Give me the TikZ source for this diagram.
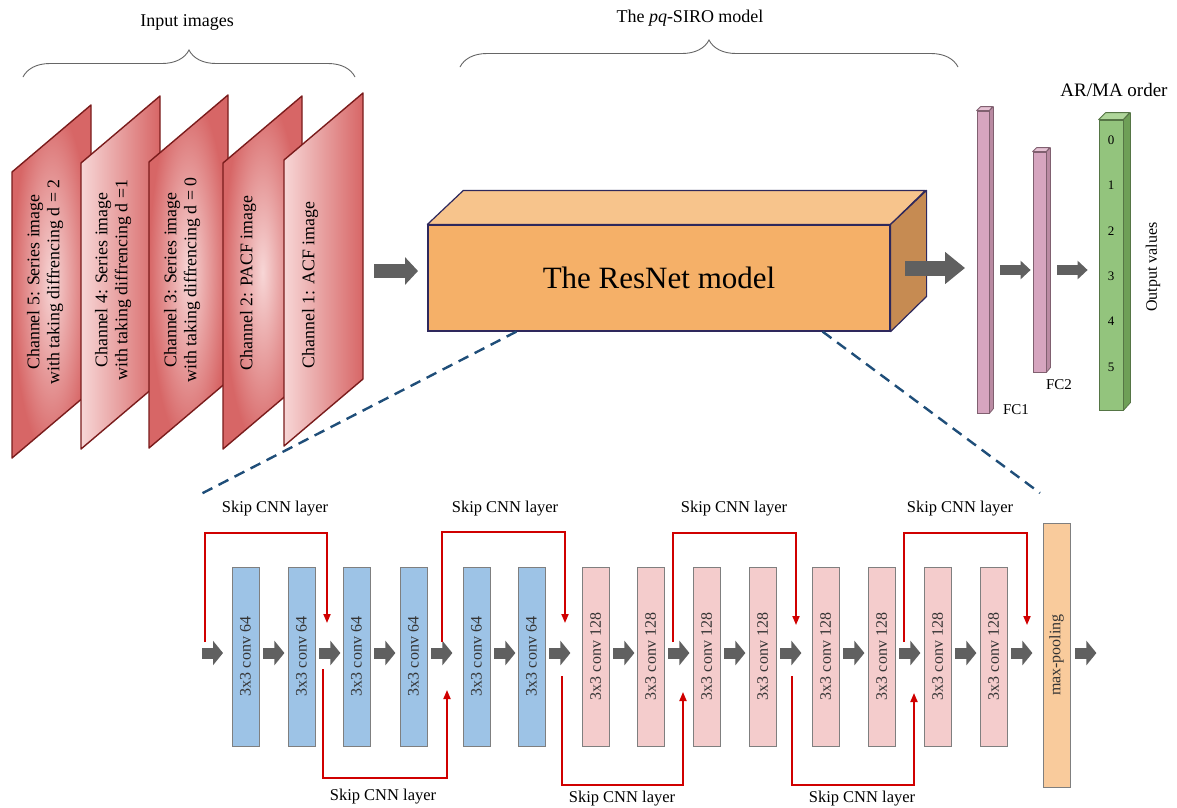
\documentclass[tikz,border=0pt]{standalone}
\usepackage{fontspec}
\setmainfont{Liberation Serif}
\usetikzlibrary{arrows.meta,decorations.pathreplacing}

\definecolor{pdark}{HTML}{D76666}
\definecolor{plight}{HTML}{F7D6D6}
\definecolor{pborder}{HTML}{7A1C1C}
\definecolor{boxfront}{HTML}{F5B068}
\definecolor{boxtop}{HTML}{F7C48C}
\definecolor{boxside}{HTML}{C68B52}
\definecolor{boxline}{HTML}{2E285C}
\definecolor{arrowgray}{HTML}{606060}
\definecolor{fcfront}{HTML}{D6A5BF}
\definecolor{fctop}{HTML}{E6C2D4}
\definecolor{fcside}{HTML}{B98AA2}
\definecolor{fcline}{HTML}{806070}
\definecolor{outfront}{HTML}{93C47D}
\definecolor{outtop}{HTML}{AFD69A}
\definecolor{outsidecol}{HTML}{6E9F57}
\definecolor{outborder}{HTML}{557545}
\definecolor{convblue}{HTML}{9DC3E6}
\definecolor{convpink}{HTML}{F4CCCC}
\definecolor{poolfill}{HTML}{F9CB9C}
\definecolor{convline}{HTML}{7F7F7F}
\definecolor{skipred}{HTML}{D00000}
\definecolor{zoomblue}{HTML}{1F4E79}

% one input channel: a slanted sheet with left edge at x=#1, top-left y=#2
\newcommand{\chanpanel}[3]{%
  \path[shade,#3,draw=pborder,line width=1.4pt,line join=round]
    (#1,#2) -- (#1+79,#2-67) -- (#1+79,#2+219) -- (#1,#2+286) -- cycle;}

\tikzset{
  chtext/.style={rotate=90,align=center,font=\fontsize{17.8}{20}\selectfont,inner sep=0pt},
  brace/.style={decorate,decoration={brace,amplitude=27pt},draw=black!60,line width=0.9pt},
  lbl/.style={inner sep=0pt,font=\fontsize{18}{21}\selectfont},
  bigarrow/.style={draw=arrowgray,line width=14pt,-{Triangle[length=13pt,width=27pt]}},
  widearrow/.style={draw=arrowgray,line width=15pt,-{Triangle[length=20pt,width=31pt]}},
  fcarrow/.style={draw=arrowgray,line width=10pt,-{Triangle[length=10pt,width=18pt]}},
  blk/.style={draw=arrowgray,line width=11pt,-{Triangle[length=10pt,width=24pt]}},
  convbox/.style={rotate=90,draw=convline,line width=0.8pt,minimum width=179pt,
    minimum height=27pt,inner sep=0pt,font=\fontsize{16}{18}\selectfont,text=black!80},
  conv64/.style={convbox,fill=convblue},
  conv128/.style={convbox,fill=convpink},
  skip/.style={draw=skipred,line width=1.8pt,-{Triangle[length=9pt,width=7pt]}},
  skiplbl/.style={inner sep=0pt,font=\fontsize{16.5}{19}\selectfont},
  zoomline/.style={draw=zoomblue,line width=2.4pt,dash pattern=on 11pt off 7pt},
}

\begin{document}
\begin{tikzpicture}[x=1pt,y=-1pt]
\useasboundingbox[fill=white] (0,0) rectangle (1177,807);

% ---------- input channels ----------
\chanpanel{12}{172}{inner color=plight,outer color=pdark}
\chanpanel{81}{163}{left color=plight,right color=pdark}
\chanpanel{149}{162}{inner color=plight,outer color=pdark}
\chanpanel{223}{163}{inner color=plight,outer color=pdark}
\chanpanel{284}{160}{left color=plight,right color=pdark}

\node[chtext] (t5) at (45,282) {Channel 5: Series image\\with taking diffrencing d = 2};
\node[chtext] (t4) at (113,280) {Channel 4: Series image\\with taking diffrencing d =1};
\node[chtext] (t3) at (182,280) {Channel 3: Series image\\with taking diffrencing d = 0};
\node[chtext] (t2) at (248,283) {Channel 2: PACF image};
\node[chtext] (t1) at (310,285) {Channel 1: ACF image};

% ---------- braces and titles ----------
\draw[brace] (23,77) -- (355,77);
\node[lbl] (inlbl) at (187,22) {Input images};
\draw[brace] (460,67) -- (958,67);
\node[lbl] (modellbl) at (690,18) {The \textit{pq}-SIRO model};

% ---------- ResNet block ----------
\node[draw=boxline,fill=boxfront,line width=1.2pt,minimum width=462pt,minimum height=106pt,
      inner sep=0pt,font=\fontsize{31}{36}\selectfont] (resnet) at (659,278) {The ResNet model};
\draw[draw=boxline,fill=boxtop,line width=1.2pt,line join=round]
  (resnet.north west) -- ++(36,-34) -- ++(462,0) -- (resnet.north east) -- cycle;
\draw[draw=boxline,fill=boxside,line width=1.2pt,line join=round]
  (resnet.north east) -- ++(36,-34) -- ++(0,106) -- (resnet.south east) -- cycle;

\coordinate (inS) at (374,271);
\coordinate (inE) at (418,271);
\draw[bigarrow] (inS) -- (inE);
\coordinate (outS) at (905,268);
\coordinate (outE) at (965,268);
\draw[widearrow] (outS) -- (outE);

% ---------- fully connected layers ----------
\node[draw=fcline,fill=fcfront,line width=0.8pt,minimum width=12pt,minimum height=302pt,inner sep=0pt] (fc1) at (983,262) {};
\draw[draw=fcline,fill=fctop,line width=0.8pt,line join=round]
  (fc1.north west) -- ++(4,-4) -- ++(12,0) -- (fc1.north east) -- cycle;
\draw[draw=fcline,fill=fcside,line width=0.8pt,line join=round]
  (fc1.north east) -- ++(4,-4) -- ++(0,302) -- (fc1.south east) -- cycle;

\node[draw=fcline,fill=fcfront,line width=0.8pt,minimum width=13pt,minimum height=220pt,inner sep=0pt] (fc2) at (1039.5,262) {};
\draw[draw=fcline,fill=fctop,line width=0.8pt,line join=round]
  (fc2.north west) -- ++(4,-4) -- ++(13,0) -- (fc2.north east) -- cycle;
\draw[draw=fcline,fill=fcside,line width=0.8pt,line join=round]
  (fc2.north east) -- ++(4,-4) -- ++(0,220) -- (fc2.south east) -- cycle;

\node[inner sep=0pt,font=\fontsize{15}{17}\selectfont] (fc1lbl) at (1016,410) {FC1};
\node[inner sep=0pt,font=\fontsize{15}{17}\selectfont] (fc2lbl) at (1059,385) {FC2};

\node[draw=outborder,fill=outfront,line width=0.8pt,minimum width=24pt,minimum height=290pt,inner sep=0pt] (outbar) at (1111,265) {};
\draw[draw=outborder,fill=outtop,line width=0.8pt,line join=round]
  (outbar.north west) -- ++(7,-7) -- ++(24,0) -- (outbar.north east) -- cycle;
\draw[draw=outborder,fill=outsidecol,line width=0.8pt,line join=round]
  (outbar.north east) -- ++(7,-7) -- ++(0,290) -- (outbar.south east) -- cycle;
\foreach \k in {0,...,5}
  \node[inner sep=0pt,font=\fontsize{13}{15}\selectfont] (n\k) at (1111,140+45.4*\k) {\k};
\node[lbl,font=\fontsize{19}{22}\selectfont] (arma) at (1114,90) {AR/MA order};
\node[inner sep=0pt,rotate=90,font=\fontsize{16}{18}\selectfont] (outvals) at (1153,267) {Output values};

\coordinate (fcy) at (0,270);
\draw[fcarrow] ([xshift=11pt]fc1.east |- fcy) -- ([xshift=-2pt]fc2.west |- fcy);
\draw[fcarrow] ([xshift=11pt]fc2.east |- fcy) -- ([xshift=-11pt]outbar.west |- fcy);

% ---------- zoom guides ----------
\coordinate (zl) at (197,496);
\coordinate (zr) at (1040,493);
\draw[zoomline] ([xshift=89pt]resnet.south west) -- (zl);
\draw[zoomline] ([xshift=-68pt]resnet.south east) -- (zr);

% ---------- residual chain ----------
\node[conv64] (c1) at (245.5,656.5) {3x3 conv 64};
\node[conv64] (c2) at (301.5,656.5) {3x3 conv 64};
\node[conv64] (c3) at (356.5,656.5) {3x3 conv 64};
\node[conv64] (c4) at (413.5,656.5) {3x3 conv 64};
\node[conv64] (c5) at (476.5,656.5) {3x3 conv 64};
\node[conv64] (c6) at (531.5,656.5) {3x3 conv 64};
\node[conv128] (c7) at (595.5,656.5) {3x3 conv 128};
\node[conv128] (c8) at (650.5,656.5) {3x3 conv 128};
\node[conv128] (c9) at (706.5,656.5) {3x3 conv 128};
\node[conv128] (c10) at (762.5,656.5) {3x3 conv 128};
\node[conv128] (c11) at (825.5,656.5) {3x3 conv 128};
\node[conv128] (c12) at (881.5,656.5) {3x3 conv 128};
\node[conv128] (c13) at (937.5,656.5) {3x3 conv 128};
\node[conv128] (c14) at (993.5,656.5) {3x3 conv 128};
\node[convbox,fill=poolfill,minimum width=264pt] (pool) at (1056.5,655) {max-pooling};

\coordinate (a0s) at (202,653);
\draw[blk] (a0s) -- ++(21,0);
\foreach \i in {1,...,14}
  \draw[blk] (c\i.south |- a0s) ++(4,0) -- ++(21,0);
\draw[blk] (pool.south |- a0s) ++(5,0) -- ++(21,0);

% skip connections above the chain
\coordinate (s1a) at (205,642);  \coordinate (s1b) at (327,623);
\coordinate (s2a) at (442,642);  \coordinate (s2b) at (565,623);
\coordinate (s3a) at (673,642);  \coordinate (s3b) at (796,625);
\coordinate (s4a) at (904,642);  \coordinate (s4b) at (1027,625);
\draw[skip] (s1a) -- (205,533) -| (s1b);
\draw[skip] (s2a) -- (442,532) -| (s2b);
\draw[skip] (s3a) -- (673,533) -| (s3b);
\draw[skip] (s4a) -- (904,533) -| (s4b);

% skip connections below the chain
\coordinate (b1a) at (323,669);  \coordinate (b1b) at (447,690);
\coordinate (b2a) at (562,676);  \coordinate (b2b) at (683,692);
\coordinate (b3a) at (792,676);  \coordinate (b3b) at (914,693);
\draw[skip] (b1a) -- (323,778) -| (b1b);
\draw[skip] (b2a) -- (562,785) -| (b2b);
\draw[skip] (b3a) -- (792,785) -| (b3b);

\node[skiplbl] (k1) at (275,509) {Skip CNN layer};
\node[skiplbl] (k2) at (505,509) {Skip CNN layer};
\node[skiplbl] (k3) at (734,509) {Skip CNN layer};
\node[skiplbl] (k4) at (960,509) {Skip CNN layer};
\node[skiplbl] (k5) at (383,797) {Skip CNN layer};
\node[skiplbl] (k6) at (622,799) {Skip CNN layer};
\node[skiplbl] (k7) at (862,799) {Skip CNN layer};
\end{tikzpicture}
\end{document}
